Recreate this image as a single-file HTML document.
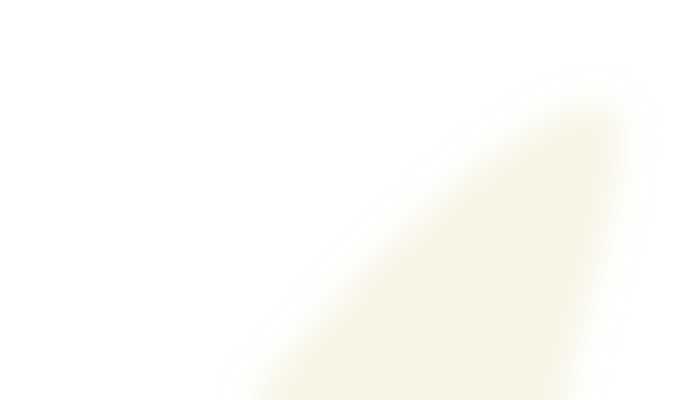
<!DOCTYPE html>
<html>
<head>
<meta charset="utf-8">
<style>
  html,body{margin:0;padding:0;background:#ffffff;width:680px;height:400px;overflow:hidden;}
  svg{display:block;}
</style>
</head>
<body>
<svg width="680" height="400" viewBox="0 0 680 400" style="overflow:hidden">
  <defs>
    <filter id="blur" filterUnits="userSpaceOnUse" x="0" y="0" width="680" height="460">
      <feFlood flood-color="#000" x="0" y="370" width="680" height="30" result="strip"/>
      <feComposite in="SourceGraphic" in2="strip" operator="in" result="bottom"/>
      <feOffset in="bottom" dy="30" result="ext"/>
      <feMerge result="merged">
        <feMergeNode in="SourceGraphic"/>
        <feMergeNode in="ext"/>
      </feMerge>
      <feGaussianBlur in="merged" stdDeviation="16"/>
    </filter>
  </defs>
  <rect width="680" height="400" fill="#ffffff"/>
  <polygon
    points="248,400 285,360 372,262 475,168 555,115 602,102 622,122 612,205 588,300 562,400"
    fill="#f7f5e5" filter="url(#blur)"/>
</svg>
</body>
</html>
